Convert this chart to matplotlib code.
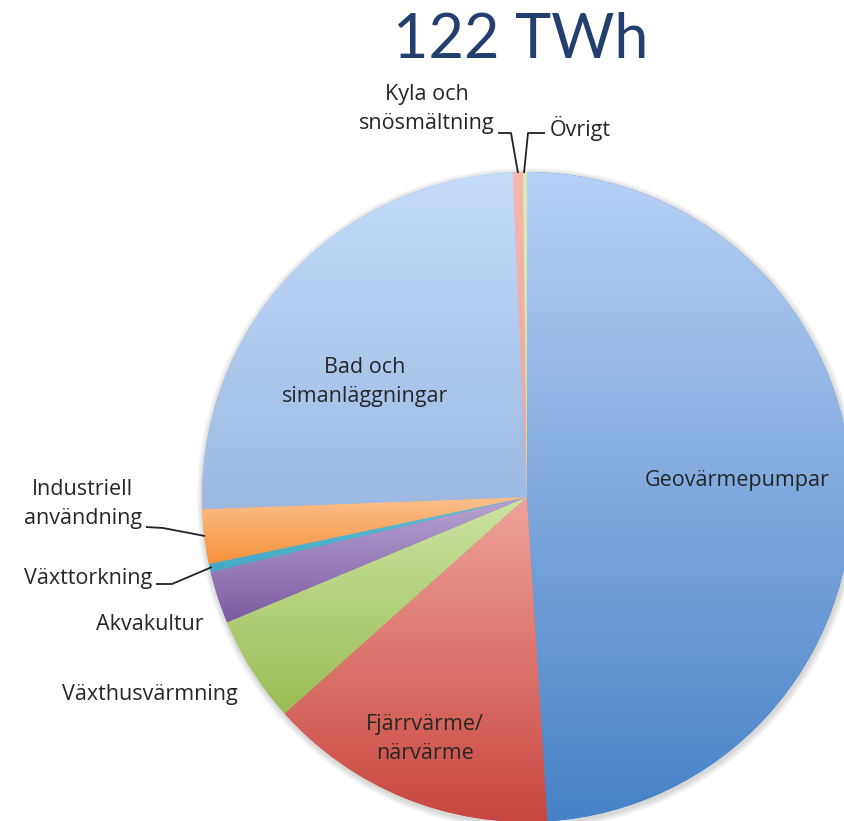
import numpy as np
import matplotlib.pyplot as plt
from matplotlib.colors import to_rgb

# Geothermal direct use worldwide, share of 122 TWh (%)
categories = ["Geovärmepumpar", "Fjärrvärme/\nnärvärme", "Växthusvärmning", "Akvakultur",
              "Växttorkning", "Industriell\nanvändning", "Bad och\nsimanläggningar",
              "Kyla och\nsnösmältning", "Övrigt"]
shares = [49.0, 14.4, 5.3, 2.6, 0.4, 2.7, 24.9, 0.5, 0.2]

# gradient colours, top -> bottom
top_colors = ["#b8d0f6", "#eea39c", "#cde3a2", "#b8a5d3", "#5cc0d8", "#fcc08c",
              "#c4dbfa", "#f6b8b0", "#dcebb6"]
bottom_colors = ["#4682c6", "#c8463e", "#9abd55", "#7b5ca2", "#45a9c6", "#f5923a",
                 "#9db9e2", "#eea49b", "#cfe2a4"]

W, H = 845, 821
def py(y):
    # pixel row -> data y
    return H - y

fig = plt.figure(figsize=(W / 100, H / 100), dpi=100)
ax = fig.add_axes([0, 0, 1, 1])

cx, cy, r = 527, py(497), 325

# soft shadow
for k in range(8):
    ax.add_patch(plt.Circle((cx + 1, cy - 2), r + 1 + k * 0.8, color="black",
                            alpha=0.018, lw=0, zorder=0))

wedges, _ = ax.pie(shares, colors=bottom_colors, startangle=90, counterclock=False,
                   center=(cx, cy), radius=r, frame=True,
                   wedgeprops=dict(linewidth=0))

for w, c0, c1 in zip(wedges, top_colors, bottom_colors):
    v = w.get_path().vertices
    x0, x1 = v[:, 0].min(), v[:, 0].max()
    y0, y1 = v[:, 1].min(), v[:, 1].max()
    t = np.linspace(0, 1, 256)[:, None]
    a, b = np.array(to_rgb(c1)), np.array(to_rgb(c0))
    img = (a + (b - a) * t)[:, None, :]
    im = ax.imshow(img, extent=(x0, x1, y0, y1), origin="lower",
                   interpolation="bilinear", aspect="auto", zorder=2)
    im.set_clip_path(w)

lab_font = ["Open Sans", "DejaVu Sans"]
lab_col = "#262626"
fs = 15.5

label_pos = [(737, 480, "center"), (425, 739, "center"), (150, 694, "center"),
             (150, 624, "center"), (152, 578, "right"), (142, 504, "right"),
             (365, 382, "center"), (495, 109, "right"), (550, 128, "left")]
for name, (x, y, ha) in zip(categories, label_pos):
    ax.text(x, py(y), name, ha=ha, va="center", fontsize=fs, color=lab_col,
            family=lab_font, linespacing=1.5, zorder=5,
            multialignment="center")

# leader lines
leaders = [
    [(498, 133), (511, 133), (518, 173)],
    [(545, 133), (528, 133), (524, 173)],
    [(146, 527), (163, 528), (205, 536)],
    [(156, 584), (172, 584), (212, 567)],
]
for pts in leaders:
    xs = [p[0] for p in pts]
    ys = [py(p[1]) for p in pts]
    ax.plot(xs, ys, color="#222222", lw=1.3, zorder=5, solid_capstyle="butt")

ax.text(521, py(40), "122 TWh", ha="center", va="center", fontsize=44,
        color="#233f6e", family=["Lato", "DejaVu Sans"], zorder=5)

ax.set_xlim(0, W)
ax.set_ylim(0, H)
ax.set_aspect("auto")
ax.axis("off")

fig.savefig("out.png", dpi=100, facecolor="white")
